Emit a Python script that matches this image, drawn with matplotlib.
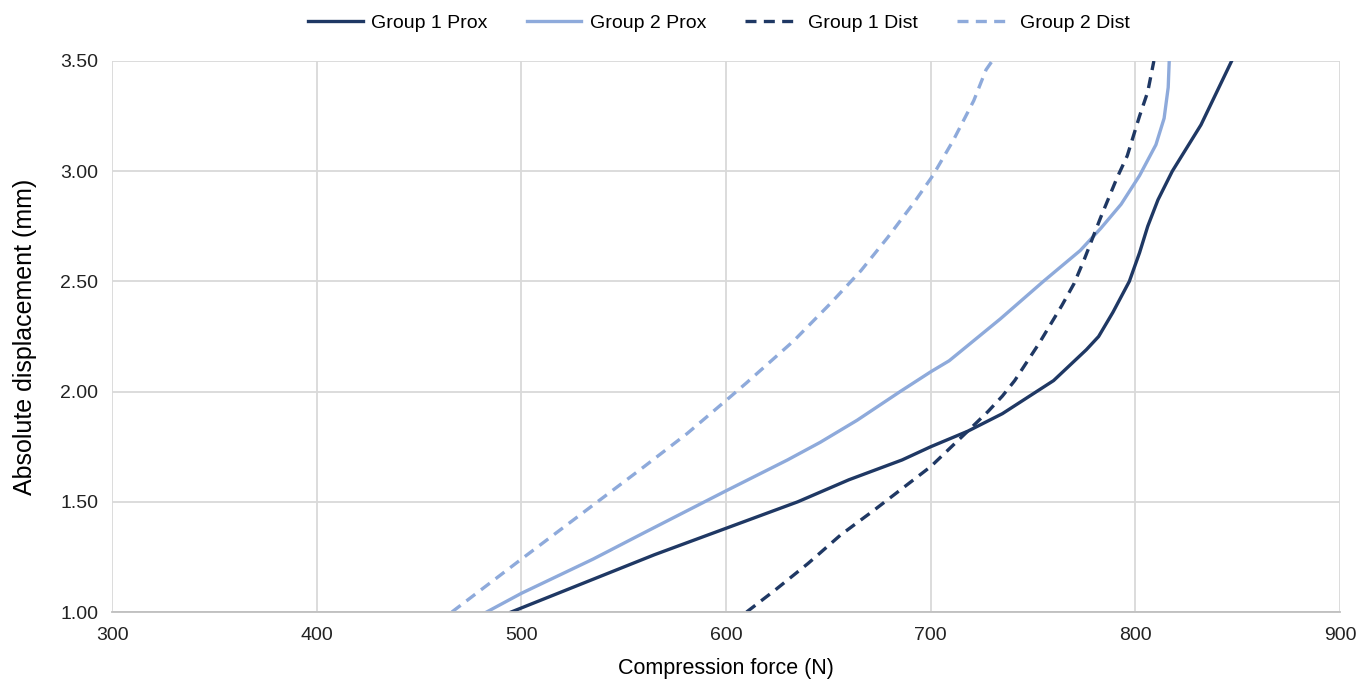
import matplotlib.pyplot as plt

# Group 1 Prox
g1p_force = [495, 530, 565, 600, 635, 660, 686, 700, 718, 735, 750, 760, 776, 782, 789, 797, 802, 806, 811, 818, 832, 847]
g1p_disp = [1.00, 1.13, 1.26, 1.38, 1.50, 1.60, 1.69, 1.75, 1.82, 1.90, 1.99, 2.05, 2.19, 2.25, 2.36, 2.50, 2.63, 2.75, 2.87, 3.00, 3.21, 3.50]

# Group 2 Prox
g2p_force = [483, 500, 535, 560, 600, 630, 646, 664, 685, 700, 709, 734, 755, 773, 783, 793, 802, 810, 814, 816, 816.5]
g2p_disp = [1.00, 1.085, 1.24, 1.36, 1.55, 1.69, 1.77, 1.87, 2.00, 2.09, 2.14, 2.33, 2.50, 2.64, 2.74, 2.85, 2.98, 3.12, 3.24, 3.38, 3.50]

# Group 1 Dist
g1d_force = [610, 624, 640, 656, 672, 686, 700, 718, 728, 735, 741, 753, 764, 770, 775, 783, 791, 796, 802, 806, 809]
g1d_disp = [1.00, 1.10, 1.22, 1.35, 1.46, 1.56, 1.66, 1.82, 1.91, 1.98, 2.05, 2.22, 2.39, 2.49, 2.60, 2.79, 2.97, 3.07, 3.25, 3.36, 3.50]

# Group 2 Dist
g2d_force = [466, 500, 520, 540, 560, 581, 600, 610, 633, 651, 666, 679, 692, 701, 711, 721, 727, 730]
g2d_disp = [1.00, 1.24, 1.38, 1.52, 1.66, 1.81, 1.96, 2.04, 2.23, 2.40, 2.55, 2.70, 2.86, 2.98, 3.14, 3.32, 3.46, 3.50]

x_ticks = [300, 400, 500, 600, 700, 800, 900]
y_ticks = [1.00, 1.50, 2.00, 2.50, 3.00, 3.50]

dark = '#1f3864'
light = '#8eaadb'
dash = (0, (3.3, 2.2))

plt.rcParams['font.family'] = ['Liberation Sans', 'DejaVu Sans']

fig = plt.figure(figsize=(13.7, 6.82), dpi=100)
ax = fig.add_axes([0.0818, 0.1026, 0.8964, 0.808])

ax.plot(g1p_force, g1p_disp, color=dark, lw=2.4, label='Group 1 Prox')
ax.plot(g2p_force, g2p_disp, color=light, lw=2.4, label='Group 2 Prox')
ax.plot(g1d_force, g1d_disp, color=dark, lw=2.4, linestyle=dash, label='Group 1 Dist')
ax.plot(g2d_force, g2d_disp, color=light, lw=2.4, linestyle=dash, label='Group 2 Dist')

ax.set_xlim(300, 900)
ax.set_ylim(1.0, 3.5)
ax.set_xticks(x_ticks)
ax.set_yticks(y_ticks)
ax.set_yticklabels([f'{v:.2f}' for v in y_ticks])
ax.tick_params(length=0, labelsize=14, colors='#222222')
ax.tick_params(axis='x', pad=11)
ax.tick_params(axis='y', pad=10)

ax.grid(True, color='#d9d9d9', lw=1.3)
ax.set_axisbelow(True)
for side in ['top', 'right', 'left']:
    ax.spines[side].set_visible(False)
ax.spines['bottom'].set_color('#bfbfbf')
ax.spines['bottom'].set_linewidth(1.3)

ax.set_xlabel('Compression force (N)', fontsize=15.5, labelpad=10)
ax.set_ylabel('Absolute displacement (mm)', fontsize=18, labelpad=17)

fig.legend(loc='upper center', bbox_to_anchor=(0.525, 1.005), ncol=4, frameon=False,
           fontsize=14, handlelength=2.8, columnspacing=2.0, handletextpad=0.45)

fig.savefig('out.png', dpi=100)
